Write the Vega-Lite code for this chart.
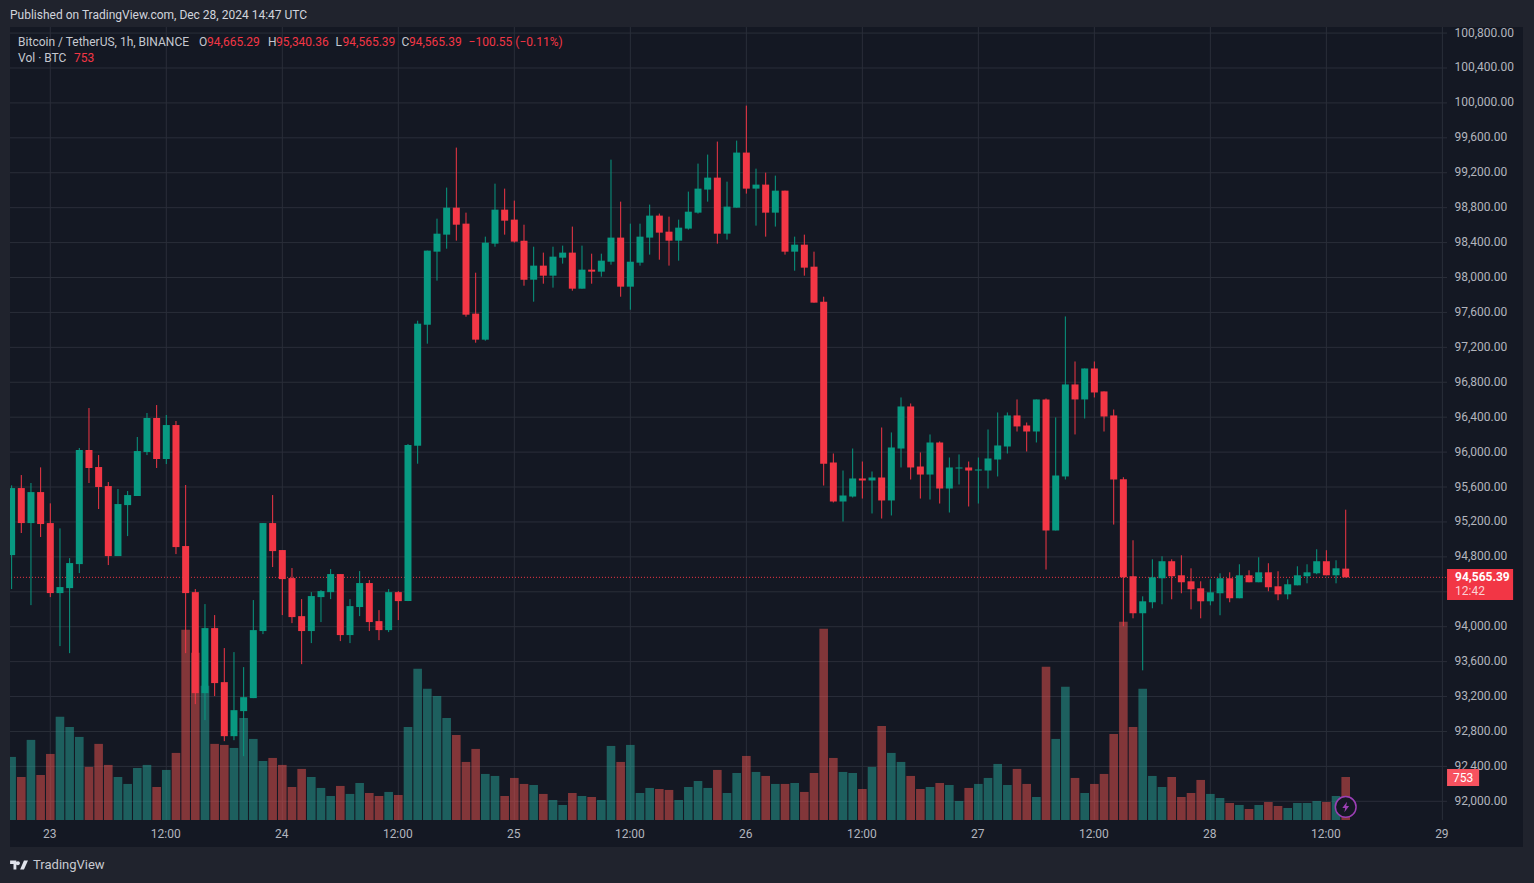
{"$schema":"https://vega.github.io/schema/vega-lite/v6.json","width":1513,"height":820,"autosize":{"type":"none"},"padding":{"left":10,"top":27,"right":11,"bottom":36},"background":"#20232d","view":{"fill":"#141823","stroke":null},"config":{"font":"Roboto","text":{"font":"Roboto"}},"title":{"text":"Published on TradingView.com, Dec 28, 2024 14:47 UTC","anchor":"start","frame":"group","offset":4,"fontSize":12,"fontWeight":"normal","color":"#d1d4dc","font":"Roboto"},
"datasets":{"candles":[
{"t":"2024-12-22T20:00:00Z","o":94820,"h":95619,"l":94431,"c":95588,"v":1104},
{"t":"2024-12-22T21:00:00Z","o":95588,"h":95737,"l":95073,"c":95187,"v":753},
{"t":"2024-12-22T22:00:00Z","o":95187,"h":95646,"l":94247,"c":95542,"v":1402},
{"t":"2024-12-22T23:00:00Z","o":95542,"h":95825,"l":95027,"c":95176,"v":788},
{"t":"2024-12-23T00:00:00Z","o":95187,"h":95413,"l":94339,"c":94385,"v":1156},
{"t":"2024-12-23T01:00:00Z","o":94385,"h":95126,"l":93778,"c":94454,"v":1805},
{"t":"2024-12-23T02:00:00Z","o":94442,"h":94786,"l":93697,"c":94729,"v":1629},
{"t":"2024-12-23T03:00:00Z","o":94717,"h":96047,"l":94614,"c":96024,"v":1454},
{"t":"2024-12-23T04:00:00Z","o":96024,"h":96505,"l":95646,"c":95818,"v":929},
{"t":"2024-12-23T05:00:00Z","o":95829,"h":95966,"l":95348,"c":95600,"v":1332},
{"t":"2024-12-23T06:00:00Z","o":95611,"h":95657,"l":94706,"c":94809,"v":964},
{"t":"2024-12-23T07:00:00Z","o":94809,"h":95577,"l":94809,"c":95405,"v":753},
{"t":"2024-12-23T08:00:00Z","o":95393,"h":95554,"l":95038,"c":95508,"v":631},
{"t":"2024-12-23T09:00:00Z","o":95497,"h":96173,"l":95497,"c":96012,"v":911},
{"t":"2024-12-23T10:00:00Z","o":96001,"h":96448,"l":95966,"c":96391,"v":964},
{"t":"2024-12-23T11:00:00Z","o":96391,"h":96539,"l":95818,"c":95921,"v":578},
{"t":"2024-12-23T12:00:00Z","o":95921,"h":96425,"l":95863,"c":96310,"v":876},
{"t":"2024-12-23T13:00:00Z","o":96310,"h":96356,"l":94832,"c":94912,"v":1174},
{"t":"2024-12-23T14:00:00Z","o":94924,"h":95623,"l":93697,"c":94385,"v":3329},
{"t":"2024-12-23T15:00:00Z","o":94396,"h":94431,"l":93113,"c":93239,"v":2926},
{"t":"2024-12-23T16:00:00Z","o":93239,"h":94259,"l":92930,"c":93984,"v":2348},
{"t":"2024-12-23T17:00:00Z","o":93984,"h":94133,"l":93205,"c":93354,"v":1332},
{"t":"2024-12-23T18:00:00Z","o":93365,"h":93755,"l":92689,"c":92746,"v":1314},
{"t":"2024-12-23T19:00:00Z","o":92746,"h":93709,"l":92700,"c":93044,"v":1261},
{"t":"2024-12-23T20:00:00Z","o":93033,"h":93537,"l":92517,"c":93193,"v":1787},
{"t":"2024-12-23T21:00:00Z","o":93182,"h":94305,"l":93182,"c":93961,"v":1419},
{"t":"2024-12-23T22:00:00Z","o":93950,"h":95187,"l":93915,"c":95187,"v":1034},
{"t":"2024-12-23T23:00:00Z","o":95187,"h":95508,"l":94683,"c":94866,"v":1086},
{"t":"2024-12-24T00:00:00Z","o":94878,"h":94878,"l":94133,"c":94545,"v":964},
{"t":"2024-12-24T01:00:00Z","o":94557,"h":94672,"l":94041,"c":94110,"v":578},
{"t":"2024-12-24T02:00:00Z","o":94121,"h":94316,"l":93571,"c":93950,"v":894},
{"t":"2024-12-24T03:00:00Z","o":93950,"h":94396,"l":93812,"c":94351,"v":753},
{"t":"2024-12-24T04:00:00Z","o":94339,"h":94419,"l":94053,"c":94408,"v":561},
{"t":"2024-12-24T05:00:00Z","o":94396,"h":94660,"l":94316,"c":94603,"v":420},
{"t":"2024-12-24T06:00:00Z","o":94603,"h":94603,"l":93835,"c":93904,"v":596},
{"t":"2024-12-24T07:00:00Z","o":93904,"h":94316,"l":93812,"c":94236,"v":456},
{"t":"2024-12-24T08:00:00Z","o":94225,"h":94637,"l":94121,"c":94500,"v":648},
{"t":"2024-12-24T09:00:00Z","o":94500,"h":94534,"l":93950,"c":94053,"v":473},
{"t":"2024-12-24T10:00:00Z","o":94064,"h":94190,"l":93846,"c":93961,"v":420},
{"t":"2024-12-24T11:00:00Z","o":93961,"h":94431,"l":93938,"c":94396,"v":491},
{"t":"2024-12-24T12:00:00Z","o":94396,"h":94408,"l":94076,"c":94293,"v":438},
{"t":"2024-12-24T13:00:00Z","o":94293,"h":96093,"l":94293,"c":96081,"v":1629},
{"t":"2024-12-24T14:00:00Z","o":96073,"h":97505,"l":95867,"c":97471,"v":2646},
{"t":"2024-12-24T15:00:00Z","o":97459,"h":98308,"l":97242,"c":98308,"v":2295},
{"t":"2024-12-24T16:00:00Z","o":98296,"h":98674,"l":97964,"c":98502,"v":2172},
{"t":"2024-12-24T17:00:00Z","o":98491,"h":99030,"l":98330,"c":98800,"v":1787},
{"t":"2024-12-24T18:00:00Z","o":98800,"h":99488,"l":98422,"c":98605,"v":1489},
{"t":"2024-12-24T19:00:00Z","o":98617,"h":98743,"l":97551,"c":97574,"v":1016},
{"t":"2024-12-24T20:00:00Z","o":97586,"h":98055,"l":97253,"c":97288,"v":1244},
{"t":"2024-12-24T21:00:00Z","o":97288,"h":98468,"l":97276,"c":98399,"v":806},
{"t":"2024-12-24T22:00:00Z","o":98388,"h":99075,"l":98353,"c":98777,"v":771},
{"t":"2024-12-24T23:00:00Z","o":98777,"h":99018,"l":98491,"c":98651,"v":420},
{"t":"2024-12-25T00:00:00Z","o":98663,"h":98881,"l":98399,"c":98411,"v":736},
{"t":"2024-12-25T01:00:00Z","o":98422,"h":98605,"l":97906,"c":97975,"v":631},
{"t":"2024-12-25T02:00:00Z","o":97975,"h":98353,"l":97723,"c":98136,"v":613},
{"t":"2024-12-25T03:00:00Z","o":98136,"h":98285,"l":97929,"c":98021,"v":456},
{"t":"2024-12-25T04:00:00Z","o":98021,"h":98353,"l":97884,"c":98239,"v":350},
{"t":"2024-12-25T05:00:00Z","o":98227,"h":98365,"l":98159,"c":98285,"v":263},
{"t":"2024-12-25T06:00:00Z","o":98285,"h":98583,"l":97849,"c":97872,"v":473},
{"t":"2024-12-25T07:00:00Z","o":97872,"h":98365,"l":97872,"c":98090,"v":420},
{"t":"2024-12-25T08:00:00Z","o":98090,"h":98273,"l":97929,"c":98067,"v":403},
{"t":"2024-12-25T09:00:00Z","o":98067,"h":98273,"l":98010,"c":98193,"v":350},
{"t":"2024-12-25T10:00:00Z","o":98181,"h":99350,"l":98147,"c":98457,"v":1296},
{"t":"2024-12-25T11:00:00Z","o":98457,"h":98869,"l":97780,"c":97895,"v":1016},
{"t":"2024-12-25T12:00:00Z","o":97895,"h":98617,"l":97631,"c":98181,"v":1314},
{"t":"2024-12-25T13:00:00Z","o":98170,"h":98617,"l":98136,"c":98468,"v":473},
{"t":"2024-12-25T14:00:00Z","o":98457,"h":98835,"l":98262,"c":98709,"v":561},
{"t":"2024-12-25T15:00:00Z","o":98709,"h":98732,"l":98204,"c":98514,"v":543},
{"t":"2024-12-25T16:00:00Z","o":98525,"h":98697,"l":98136,"c":98422,"v":526},
{"t":"2024-12-25T17:00:00Z","o":98422,"h":98663,"l":98193,"c":98571,"v":350},
{"t":"2024-12-25T18:00:00Z","o":98560,"h":98984,"l":98548,"c":98754,"v":578},
{"t":"2024-12-25T19:00:00Z","o":98743,"h":99305,"l":98732,"c":99018,"v":683},
{"t":"2024-12-25T20:00:00Z","o":99007,"h":99408,"l":98869,"c":99144,"v":561},
{"t":"2024-12-25T21:00:00Z","o":99144,"h":99557,"l":98388,"c":98502,"v":876},
{"t":"2024-12-25T22:00:00Z","o":98502,"h":99098,"l":98434,"c":98812,"v":473},
{"t":"2024-12-25T23:00:00Z","o":98800,"h":99568,"l":98800,"c":99431,"v":823},
{"t":"2024-12-26T00:00:00Z","o":99431,"h":99969,"l":98961,"c":99018,"v":1121},
{"t":"2024-12-26T01:00:00Z","o":99018,"h":99247,"l":98594,"c":99064,"v":841},
{"t":"2024-12-26T02:00:00Z","o":99064,"h":99201,"l":98468,"c":98743,"v":771},
{"t":"2024-12-26T03:00:00Z","o":98743,"h":99167,"l":98583,"c":98995,"v":631},
{"t":"2024-12-26T04:00:00Z","o":98995,"h":98995,"l":98262,"c":98296,"v":631},
{"t":"2024-12-26T05:00:00Z","o":98296,"h":98468,"l":98078,"c":98376,"v":648},
{"t":"2024-12-26T06:00:00Z","o":98376,"h":98491,"l":98021,"c":98113,"v":491},
{"t":"2024-12-26T07:00:00Z","o":98124,"h":98296,"l":97712,"c":97712,"v":823},
{"t":"2024-12-26T08:00:00Z","o":97723,"h":97780,"l":95617,"c":95867,"v":3346},
{"t":"2024-12-26T09:00:00Z","o":95881,"h":95984,"l":95423,"c":95434,"v":1086},
{"t":"2024-12-26T10:00:00Z","o":95434,"h":95789,"l":95205,"c":95503,"v":841},
{"t":"2024-12-26T11:00:00Z","o":95491,"h":96041,"l":95480,"c":95698,"v":823},
{"t":"2024-12-26T12:00:00Z","o":95698,"h":95892,"l":95468,"c":95675,"v":543},
{"t":"2024-12-26T13:00:00Z","o":95675,"h":95778,"l":95297,"c":95709,"v":929},
{"t":"2024-12-26T14:00:00Z","o":95709,"h":96282,"l":95239,"c":95446,"v":1647},
{"t":"2024-12-26T15:00:00Z","o":95446,"h":96225,"l":95274,"c":96053,"v":1174},
{"t":"2024-12-26T16:00:00Z","o":96041,"h":96626,"l":95824,"c":96523,"v":1016},
{"t":"2024-12-26T17:00:00Z","o":96523,"h":96557,"l":95686,"c":95824,"v":771},
{"t":"2024-12-26T18:00:00Z","o":95835,"h":95996,"l":95468,"c":95743,"v":543},
{"t":"2024-12-26T19:00:00Z","o":95743,"h":96202,"l":95457,"c":96110,"v":578},
{"t":"2024-12-26T20:00:00Z","o":96110,"h":96122,"l":95411,"c":95583,"v":648},
{"t":"2024-12-26T21:00:00Z","o":95583,"h":95938,"l":95308,"c":95824,"v":613},
{"t":"2024-12-26T22:00:00Z","o":95812,"h":95973,"l":95629,"c":95824,"v":333},
{"t":"2024-12-26T23:00:00Z","o":95824,"h":95892,"l":95377,"c":95789,"v":561},
{"t":"2024-12-27T00:00:00Z","o":95789,"h":95938,"l":95411,"c":95801,"v":631},
{"t":"2024-12-27T01:00:00Z","o":95789,"h":96259,"l":95583,"c":95927,"v":736},
{"t":"2024-12-27T02:00:00Z","o":95915,"h":96454,"l":95721,"c":96076,"v":981},
{"t":"2024-12-27T03:00:00Z","o":96064,"h":96454,"l":95984,"c":96420,"v":613},
{"t":"2024-12-27T04:00:00Z","o":96420,"h":96603,"l":96236,"c":96294,"v":894},
{"t":"2024-12-27T05:00:00Z","o":96305,"h":96339,"l":96007,"c":96236,"v":631},
{"t":"2024-12-27T06:00:00Z","o":96236,"h":96603,"l":96110,"c":96603,"v":403},
{"t":"2024-12-27T07:00:00Z","o":96603,"h":96614,"l":94655,"c":95102,"v":2681},
{"t":"2024-12-27T08:00:00Z","o":95102,"h":96397,"l":95102,"c":95732,"v":1419},
{"t":"2024-12-27T09:00:00Z","o":95721,"h":97554,"l":95686,"c":96775,"v":2330},
{"t":"2024-12-27T10:00:00Z","o":96775,"h":97038,"l":96202,"c":96603,"v":736},
{"t":"2024-12-27T11:00:00Z","o":96603,"h":96958,"l":96385,"c":96958,"v":473},
{"t":"2024-12-27T12:00:00Z","o":96958,"h":97038,"l":96626,"c":96683,"v":631},
{"t":"2024-12-27T13:00:00Z","o":96695,"h":96695,"l":96236,"c":96408,"v":806},
{"t":"2024-12-27T14:00:00Z","o":96420,"h":96488,"l":95170,"c":95686,"v":1507},
{"t":"2024-12-27T15:00:00Z","o":95689,"h":95712,"l":94005,"c":94566,"v":3469},
{"t":"2024-12-27T16:00:00Z","o":94578,"h":94990,"l":94096,"c":94154,"v":1629},
{"t":"2024-12-27T17:00:00Z","o":94154,"h":94348,"l":93500,"c":94291,"v":2295},
{"t":"2024-12-27T18:00:00Z","o":94280,"h":94772,"l":94211,"c":94566,"v":771},
{"t":"2024-12-27T19:00:00Z","o":94555,"h":94807,"l":94257,"c":94750,"v":578},
{"t":"2024-12-27T20:00:00Z","o":94750,"h":94772,"l":94314,"c":94578,"v":753},
{"t":"2024-12-27T21:00:00Z","o":94589,"h":94818,"l":94383,"c":94509,"v":403},
{"t":"2024-12-27T22:00:00Z","o":94520,"h":94669,"l":94199,"c":94429,"v":473},
{"t":"2024-12-27T23:00:00Z","o":94440,"h":94520,"l":94096,"c":94291,"v":701},
{"t":"2024-12-28T00:00:00Z","o":94291,"h":94543,"l":94245,"c":94394,"v":456},
{"t":"2024-12-28T01:00:00Z","o":94383,"h":94612,"l":94131,"c":94555,"v":385},
{"t":"2024-12-28T02:00:00Z","o":94555,"h":94623,"l":94280,"c":94326,"v":298},
{"t":"2024-12-28T03:00:00Z","o":94326,"h":94715,"l":94326,"c":94589,"v":263},
{"t":"2024-12-28T04:00:00Z","o":94589,"h":94646,"l":94509,"c":94509,"v":193},
{"t":"2024-12-28T05:00:00Z","o":94509,"h":94795,"l":94509,"c":94623,"v":263},
{"t":"2024-12-28T06:00:00Z","o":94623,"h":94727,"l":94406,"c":94452,"v":315},
{"t":"2024-12-28T07:00:00Z","o":94463,"h":94635,"l":94303,"c":94371,"v":245},
{"t":"2024-12-28T08:00:00Z","o":94371,"h":94543,"l":94314,"c":94486,"v":210},
{"t":"2024-12-28T09:00:00Z","o":94474,"h":94692,"l":94474,"c":94589,"v":298},
{"t":"2024-12-28T10:00:00Z","o":94578,"h":94715,"l":94497,"c":94623,"v":298},
{"t":"2024-12-28T11:00:00Z","o":94612,"h":94887,"l":94601,"c":94750,"v":333},
{"t":"2024-12-28T12:00:00Z","o":94750,"h":94876,"l":94589,"c":94589,"v":315},
{"t":"2024-12-28T13:00:00Z","o":94589,"h":94761,"l":94497,"c":94669,"v":420},
{"t":"2024-12-28T14:00:00Z","o":94665.29,"h":95340.36,"l":94565.39,"c":94565.39,"v":753}
],
"ticks":[{"t":"2024-12-23T00:00:00Z"},{"t":"2024-12-23T12:00:00Z"},{"t":"2024-12-24T00:00:00Z"},{"t":"2024-12-24T12:00:00Z"},{"t":"2024-12-25T00:00:00Z"},{"t":"2024-12-25T12:00:00Z"},{"t":"2024-12-26T00:00:00Z"},{"t":"2024-12-26T12:00:00Z"},{"t":"2024-12-27T00:00:00Z"},{"t":"2024-12-27T12:00:00Z"},{"t":"2024-12-28T00:00:00Z"},{"t":"2024-12-28T12:00:00Z"},{"t":"2024-12-29T00:00:00Z"}],
"levels":[{"p":92000,"t":"2024-12-22T19:50:00Z","t2":"2024-12-29T00:29:00Z"},{"p":92400,"t":"2024-12-22T19:50:00Z","t2":"2024-12-29T00:29:00Z"},{"p":92800,"t":"2024-12-22T19:50:00Z","t2":"2024-12-29T00:29:00Z"},{"p":93200,"t":"2024-12-22T19:50:00Z","t2":"2024-12-29T00:29:00Z"},{"p":93600,"t":"2024-12-22T19:50:00Z","t2":"2024-12-29T00:29:00Z"},{"p":94000,"t":"2024-12-22T19:50:00Z","t2":"2024-12-29T00:29:00Z"},{"p":94400,"t":"2024-12-22T19:50:00Z","t2":"2024-12-29T00:29:00Z"},{"p":94800,"t":"2024-12-22T19:50:00Z","t2":"2024-12-29T00:29:00Z"},{"p":95200,"t":"2024-12-22T19:50:00Z","t2":"2024-12-29T00:29:00Z"},{"p":95600,"t":"2024-12-22T19:50:00Z","t2":"2024-12-29T00:29:00Z"},{"p":96000,"t":"2024-12-22T19:50:00Z","t2":"2024-12-29T00:29:00Z"},{"p":96400,"t":"2024-12-22T19:50:00Z","t2":"2024-12-29T00:29:00Z"},{"p":96800,"t":"2024-12-22T19:50:00Z","t2":"2024-12-29T00:29:00Z"},{"p":97200,"t":"2024-12-22T19:50:00Z","t2":"2024-12-29T00:29:00Z"},{"p":97600,"t":"2024-12-22T19:50:00Z","t2":"2024-12-29T00:29:00Z"},{"p":98000,"t":"2024-12-22T19:50:00Z","t2":"2024-12-29T00:29:00Z"},{"p":98400,"t":"2024-12-22T19:50:00Z","t2":"2024-12-29T00:29:00Z"},{"p":98800,"t":"2024-12-22T19:50:00Z","t2":"2024-12-29T00:29:00Z"},{"p":99200,"t":"2024-12-22T19:50:00Z","t2":"2024-12-29T00:29:00Z"},{"p":99600,"t":"2024-12-22T19:50:00Z","t2":"2024-12-29T00:29:00Z"},{"p":100000,"t":"2024-12-22T19:50:00Z","t2":"2024-12-29T00:29:00Z"},{"p":100400,"t":"2024-12-22T19:50:00Z","t2":"2024-12-29T00:29:00Z"},{"p":100800,"t":"2024-12-22T19:50:00Z","t2":"2024-12-29T00:29:00Z"}]},
"encoding":{"x":{"field":"t","type":"temporal","title":null,"scale":{"type":"utc","domain":[1734896991600,1735460424000],"padding":0,"nice":false},"axis":{"orient":"bottom","offset":-27,"domain":false,"ticks":false,"grid":false,"labelPadding":8,"labelOffset":-1,"labelFont":"Roboto","labelFontSize":12,"labelColor":"#b2b5be","labelOverlap":false,"labelFlush":false,"labelBound":false,"values":[1734912000000,1734955200000,1734998400000,1735041600000,1735084800000,1735128000000,1735171200000,1735214400000,1735257600000,1735300800000,1735344000000,1735387200000,1735430400000],"labelExpr":"utchours(datum.value)==0 ? ''+utcdate(datum.value) : '12:00'"}}},
"resolve":{"scale":{"y":"independent"}},
"layer":[
{"data":{"name":"ticks"},"mark":{"type":"rule","stroke":"#2a2e39","strokeWidth":1},"encoding":{"y":{"datum":100869,"type":"quantitative","axis":null,"scale":{"domain":[91476.5,100869.5]}},"y2":{"datum":91786}}},
{"data":{"name":"levels"},"mark":{"type":"rule","stroke":"#2a2e39","strokeWidth":1},"encoding":{"x2":{"field":"t2"},"y":{"field":"p","type":"quantitative","title":null,"scale":{"domain":[91476.5,100869.5]},"axis":{"orient":"right","offset":-77,"domain":false,"ticks":false,"grid":false,"labelPadding":8,"labelOffset":-1,"labelFont":"Roboto","labelFontSize":12,"labelColor":"#b2b5be","labelOverlap":false,"labelFlush":false,"labelBound":false,"format":",.2f","values":[92000,92400,92800,93200,93600,94000,94800,95200,95600,96000,96400,96800,97200,97600,98000,98400,98800,99200,99600,100000,100400,100800]}}}},
{"data":{"name":"candles"},"mark":{"type":"bar","size":8.6,"opacity":0.5,"clip":true},"encoding":{"y":{"field":"v","type":"quantitative","axis":null,"scale":{"domain":[-472.5,13877],"zero":false}},"fill":{"condition":{"test":"datum.c>=datum.o","value":"#26a69a"},"value":"#ef5350"}}},
{"data":{"values":[{"t":"2024-12-22T19:00:00Z","t2":"2024-12-29T00:29:00Z","p":94565.39}]},"mark":{"type":"rule","stroke":"#f23645","strokeWidth":1,"strokeDash":[1,2],"clip":true},"encoding":{"x2":{"field":"t2"},"y":{"field":"p","type":"quantitative","axis":null,"scale":{"domain":[91476.5,100869.5]}}}},
{"data":{"name":"candles"},"mark":{"type":"rule","strokeWidth":1,"clip":true},"encoding":{"y":{"field":"h","type":"quantitative","axis":null,"scale":{"domain":[91476.5,100869.5]}},"y2":{"field":"l"},"stroke":{"condition":{"test":"datum.c>=datum.o","value":"#089981"},"value":"#f23645"}}},
{"data":{"name":"candles"},"mark":{"type":"bar","size":7,"clip":true},"encoding":{"y":{"field":"o","type":"quantitative","axis":null,"scale":{"domain":[91476.5,100869.5],"zero":false}},"y2":{"field":"c"},"fill":{"condition":{"test":"datum.c>=datum.o","value":"#089981"},"value":"#f23645"}}},
{"data":{"values":[{"t":"2024-12-29T00:29:00Z","t2":"2024-12-29T07:19:00Z","p":94661,"p2":94306,"col":"#f23645"},{"t":"2024-12-29T00:29:00Z","t2":"2024-12-29T03:48:00Z","p":92370,"p2":92175,"col":"#f7525f"}]},"mark":{"type":"rect"},"encoding":{"x2":{"field":"t2"},"y":{"field":"p","type":"quantitative","axis":null,"scale":{"domain":[91476.5,100869.5]}},"y2":{"field":"p2"},"fill":{"field":"col","type":"nominal","scale":null,"legend":null}}},
{"data":{"values":[{"t":"2024-12-22T20:40:00Z","p":100698,"text":"Bitcoin / TetherUS, 1h, BINANCE","col":"#c5c8d0"},{"t":"2024-12-23T15:23:00Z","p":100698,"text":"O","col":"#c5c8d0"},{"t":"2024-12-23T16:13:00Z","p":100698,"text":"94,665.29","col":"#f23645"},{"t":"2024-12-23T22:31:00Z","p":100698,"text":"H","col":"#c5c8d0"},{"t":"2024-12-23T23:21:00Z","p":100698,"text":"95,340.36","col":"#f23645"},{"t":"2024-12-24T05:30:00Z","p":100698,"text":"L","col":"#c5c8d0"},{"t":"2024-12-24T06:14:00Z","p":100698,"text":"94,565.39","col":"#f23645"},{"t":"2024-12-24T12:20:00Z","p":100698,"text":"C","col":"#c5c8d0"},{"t":"2024-12-24T13:06:00Z","p":100698,"text":"94,565.39","col":"#f23645"},{"t":"2024-12-24T19:16:00Z","p":100698,"text":"−100.55 (−0.11%)","col":"#f23645"},{"t":"2024-12-22T20:40:00Z","p":100514,"text":"Vol · BTC","col":"#c5c8d0"},{"t":"2024-12-23T02:27:00Z","p":100514,"text":"753","col":"#f23645"},{"t":"2024-12-29T01:19:00Z","p":94409,"text":"12:42","col":"#fbd0d4"}]},"mark":{"type":"text","align":"left","baseline":"middle","fontSize":12,"font":"Roboto"},"encoding":{"y":{"field":"p","type":"quantitative","axis":null,"scale":{"domain":[91476.5,100869.5]}},"text":{"field":"text"},"color":{"field":"col","type":"nominal","scale":null,"legend":null}}},
{"data":{"values":[{"t":"2024-12-22T22:13:00Z","p":91270,"text":"TradingView"}]},"mark":{"type":"text","align":"left","baseline":"middle","fontSize":13,"font":"Roboto","color":"#c8cad0"},"encoding":{"y":{"field":"p","type":"quantitative","axis":null,"scale":{"domain":[91476.5,100869.5]}},"text":{"field":"text"}}},
{"data":{"values":[{"t":"2024-12-29T01:19:00Z","p":94569,"text":"94,565.39"}]},"mark":{"type":"text","align":"left","baseline":"middle","fontSize":12,"fontWeight":"bold","font":"Roboto","color":"#ffffff"},"encoding":{"y":{"field":"p","type":"quantitative","axis":null,"scale":{"domain":[91476.5,100869.5]}},"text":{"field":"text"}}},
{"data":{"values":[{"t":"2024-12-29T02:09:00Z","p":92267,"text":"753"}]},"mark":{"type":"text","align":"center","baseline":"middle","fontSize":12,"font":"Roboto","color":"#ffffff"},"encoding":{"y":{"field":"p","type":"quantitative","axis":null,"scale":{"domain":[91476.5,100869.5]}},"text":{"field":"text"}}},
{"data":{"values":[{"t":"2024-12-28T14:00:00Z","p":91935}]},"mark":{"type":"point","shape":"circle","size":430,"filled":true,"fill":"#141823","stroke":"#9c3fb5","strokeWidth":1.5,"opacity":1},"encoding":{"y":{"field":"p","type":"quantitative","axis":null,"scale":{"domain":[91476.5,100869.5]}}}},
{"data":{"values":[{"t":"2024-12-28T14:00:00Z","p":91935}]},"mark":{"type":"point","shape":"M0.25,-1L-0.65,0.2L-0.1,0.2L-0.25,1L0.65,-0.2L0.1,-0.2Z","size":110,"filled":true,"fill":"#9c3fb5","opacity":1},"encoding":{"y":{"field":"p","type":"quantitative","axis":null,"scale":{"domain":[91476.5,100869.5]}}}},
{"data":{"values":[{"t":"2024-12-22T20:46:00Z","p":91270}]},"mark":{"type":"point","shape":"M-1,-0.5H-0.3V0.5H-0.62V-0.12H-1ZM0.1,-0.2A0.22,0.22 0 1 1 0.1,-0.21ZM0.55,-0.5H1L0.55,0.5H0.12Z","size":320,"filled":true,"fill":"#e0e3eb","opacity":1},"encoding":{"y":{"field":"p","type":"quantitative","axis":null,"scale":{"domain":[91476.5,100869.5]}}}}
]}
